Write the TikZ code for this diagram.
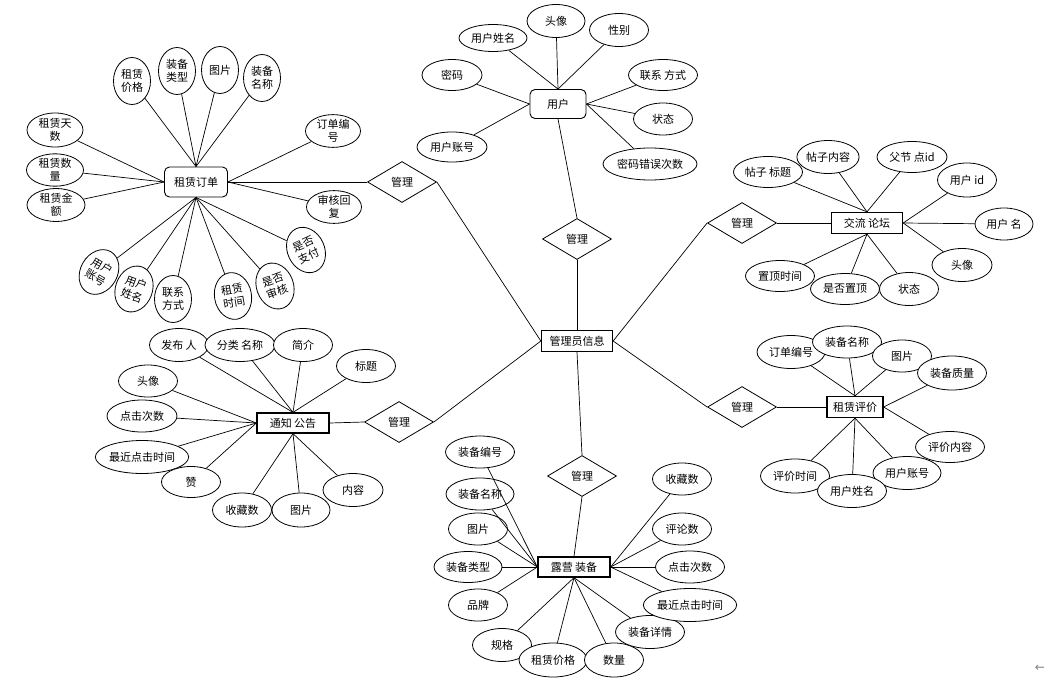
\documentclass[tikz,border=0pt]{standalone}
\usepackage{fontspec}
\setmainfont{Noto Sans CJK SC}
\newfontfamily\symfont{DejaVu Sans}
\usepackage{xcolor}
\usepackage{tikz}
\usetikzlibrary{positioning, arrows.meta, shapes.geometric}

\begin{document}
\begin{tikzpicture}[
	% one unit = one pixel of the sketch, y grows downwards
	x=1pt, y=-1pt,
	font=\fontsize{11pt}{13pt}\selectfont,
	entity/.style={
		rectangle, 
		draw, 
		align=center, 
		inner sep=0pt,
		minimum height=21pt, 
		minimum width=71pt, 
		fill=white,
		line width=1.3pt
	},
	roundbox/.style={
		rectangle, 
		draw, 
		rounded corners=5pt, 
		align=center, 
		inner sep=0pt,
		fill=white,
		line width=0.9pt
	},
	rel/.style={diamond, draw, inner sep=0pt, minimum width=69pt, minimum height=41pt, fill=white, line width=0.8pt},
	attr/.style={ellipse, draw, align=center, inner sep=0pt, minimum width=69pt, minimum height=32pt, fill=white, line width=0.8pt},
	attrs/.style={attr, minimum width=59pt, minimum height=33pt},
	attrl/.style={attr, minimum width=91pt, minimum height=33pt},
	vattr/.style={attr, minimum width=37pt, minimum height=47pt},
	link/.style={line width=0.7pt}
	]
	
	\useasboundingbox (0,0) rectangle (1048,685);
	
	% --- 1. Entities ---
	\node[entity] (admin) at (577,341) {管理员信息};
	\node[roundbox, minimum width=63pt, minimum height=30pt] (order) at (196,182) {租赁订单};
	\node[roundbox, minimum width=56pt, minimum height=29pt] (user) at (558,104) {用户};
	\node[entity] (forum) at (867,223) {交流 论坛};
	\node[entity, minimum width=56pt] (review) at (855,407) {租赁评价};
	\node[entity, minimum width=72pt, minimum height=20pt] (notice) at (293,423) {通知 公告};
	\node[entity, minimum width=72pt, minimum height=20pt] (equip) at (574,567) {露营 装备};
	
	% --- 2. Relations (all of them 管理) ---
	\node[rel] (morder) at (402,182) {管理};
	\node[rel] (muser) at (577,239) {管理};
	\node[rel] (mforum) at (742,223) {管理};
	\node[rel] (mreview) at (742,407) {管理};
	\node[rel] (mnotice) at (399,422) {管理};
	\node[rel] (mequip) at (582,476) {管理};
	
	\draw[link] (order.east) -- (morder.west);
	\draw[link] (morder.east) -- (admin.west);
	\draw[link] (user.south) -- (muser.north);
	\draw[link] (muser.south) -- (admin.north);
	\draw[link] (admin.east) -- (mforum.west);
	\draw[link] (mforum.east) -- (forum.west);
	\draw[link] (admin.east) -- (mreview.west);
	\draw[link] (mreview.east) -- (review.west);
	\draw[link] (notice.east) -- (mnotice.west);
	\draw[link] (mnotice.east) -- (admin.west);
	\draw[link] (admin.south) -- (mequip.north);
	\draw[link] (mequip.south) -- (equip.north);
	
	% --- 3. Attributes of 租赁订单 ---
	\node[vattr] (o1) at (132,81) {租赁\\价格};
	\node[vattr] (o2) at (177,71) {装备\\类型};
	\node[vattr] (o3) at (220,70) {图片};
	\node[vattr] (o4) at (262,78) {装备\\名称};
	\node[attr, minimum width=55pt, minimum height=30pt] (o5) at (333,131) {订单编\\号};
	\node[attr, minimum width=55pt, minimum height=30pt] (o6) at (334,207) {审核回\\复};
	\node[attr, minimum width=56pt, minimum height=34pt] (o7) at (55,130) {租赁天\\数};
	\node[attr, minimum width=57pt, minimum height=29pt] (o8) at (55,170) {租赁数\\量};
	\node[attr, minimum width=58pt, minimum height=30pt] (o9) at (56,205) {租赁金\\额};
	\node[vattr, rotate=-30] (o10) at (99,272) {用户\\账号};
	\node[vattr, rotate=-20] (o11) at (134,289) {用户\\姓名};
	\node[vattr] (o12) at (173,299) {联系\\方式};
	\node[vattr, rotate=10] (o13) at (233,296) {租赁\\时间};
	\node[vattr, rotate=20] (o14) at (275,286) {是否\\审核};
	\node[vattr, rotate=25] (o15) at (306,250) {是否\\支付};
	
	\draw[link] (o1) -- (order.north);
	\draw[link] (o2) -- (order.north);
	\draw[link] (o3) -- (order.north);
	\draw[link] (o4) -- (order.north);
	\draw[link] (o5) -- (order.east);
	\draw[link] (o6) -- (order.east);
	\draw[link] (o7) -- (order.west);
	\draw[link] (o8) -- (order.west);
	\draw[link] (o9) -- (order.west);
	\draw[link] (o10) -- (order.south);
	\draw[link] (o11) -- (order.south);
	\draw[link] (o12) -- (order.south);
	\draw[link] (o13) -- (order.south);
	\draw[link] (o14) -- (order.south);
	\draw[link] (o15) -- (order.south);
	
	% --- 4. Attributes of 用户 ---
	\node[attr, minimum width=68pt, minimum height=27pt] (u1) at (493,38) {用户姓名};
	\node[attrs, minimum width=58pt] (u2) at (556,21) {头像};
	\node[attrs] (u3) at (619,30) {性别};
	\node[attrs, minimum width=60pt, minimum height=31pt] (u4) at (452,75) {密码};
	\node[attr, minimum width=70pt, minimum height=30pt] (u5) at (452,147) {用户账号};
	\node[attr, minimum height=31pt] (u6) at (663,75) {联系 方式};
	\node[attrs, minimum height=32pt] (u7) at (663,119) {状态};
	\node[attr, minimum width=94pt] (u8) at (650,164) {密码错误次数};
	
	\draw[link] (u1) -- (user.north);
	\draw[link] (u2) -- (user.north);
	\draw[link] (u3) -- (user.north);
	\draw[link] (u4) -- (user.west);
	\draw[link] (u5) -- (user.west);
	\draw[link] (u6) -- (user.east);
	\draw[link] (u7) -- (user.east);
	\draw[link] (u8) -- (user.east);
	
	% --- 5. Attributes of 交流论坛 ---
	\node[attr, minimum height=31pt] (f1) at (768,172) {帖子 标题};
	\node[attrs, minimum width=58pt] (f2) at (828,157) {帖子内容};
	\node[attr, minimum width=70pt, minimum height=31pt] (f3) at (912,157) {父节 点id};
	\node[attrs, minimum height=34pt] (f4) at (967,180) {用户 id};
	\node[attrs, minimum width=58pt, minimum height=32pt] (f5) at (1004,224) {用户 名};
	\node[attrs, minimum width=60pt] (f6) at (962,265) {头像};
	\node[attrs] (f7) at (909,289) {状态};
	\node[attr, minimum height=31pt] (f8) at (845,289) {是否置顶};
	\node[attr, minimum height=31pt] (f9) at (780,276) {置顶时间};
	
	\draw[link] (f1) -- (forum.north);
	\draw[link] (f2) -- (forum.north);
	\draw[link] (f3) -- (forum.north);
	\draw[link] (f4) -- (forum.east);
	\draw[link] (f5) -- (forum.east);
	\draw[link] (f6) -- (forum.east);
	\draw[link] (f7) -- (forum.south);
	\draw[link] (f8) -- (forum.south);
	\draw[link] (f9) -- (forum.south);
	
	% --- 6. Attributes of 租赁评价 ---
	\node[attr, minimum width=68pt, minimum height=33pt] (r1) at (791,352) {订单编号};
	\node[attr] (r2) at (847,342) {装备名称};
	\node[attrs, minimum height=32pt] (r3) at (902,356) {图片};
	\node[attr, minimum height=34pt] (r4) at (952,373) {装备质量};
	\node[attr, minimum height=31pt] (r5) at (950,447) {评价内容};
	\node[attr, minimum height=34pt] (r8) at (795,476) {评价时间};
	\node[attr, minimum width=68pt, minimum height=33pt] (r6) at (907,473) {用户账号};
	\node[attr, minimum height=33pt] (r7) at (852,491) {用户姓名};
	
	\draw[link] (r1) -- (review.north);
	\draw[link] (r2) -- (review.north);
	\draw[link] (r3) -- (review.north);
	\draw[link] (r4) -- (review.east);
	\draw[link] (r5) -- (review.east);
	\draw[link] (r6) -- (review.south);
	\draw[link] (r7) -- (review.south);
	\draw[link] (r8) -- (review.south);
	
	% --- 7. Attributes of 通知公告 ---
	\node[attrs] (n1) at (179,345) {发布 人};
	\node[attr, minimum width=70pt, minimum height=33pt] (n2) at (240,345) {分类 名称};
	\node[attrs] (n3) at (303,345) {简介};
	\node[attrs] (n4) at (366,366) {标题};
	\node[attrs, minimum height=32pt] (n5) at (148,381) {头像};
	\node[attr, minimum width=70pt] (n6) at (142,416) {点击次数};
	\node[attrl] (n7) at (142,457) {最近点击时间};
	\node[attrs, minimum height=31pt] (n8) at (191,482) {赞};
	\node[attrs, minimum height=34pt] (n9) at (242,510) {收藏数};
	\node[attrs, minimum width=58pt, minimum height=34pt] (n10) at (301,510) {图片};
	\node[attrs, minimum width=60pt] (n11) at (353,490) {内容};
	
	\draw[link] (n1) -- (notice.north);
	\draw[link] (n2) -- (notice.north);
	\draw[link] (n3) -- (notice.north);
	\draw[link] (n4) -- (notice.north);
	\draw[link] (n5) -- (notice.west);
	\draw[link] (n6) -- (notice.west);
	\draw[link] (n7) -- (notice.west);
	\draw[link] (n8) -- (notice.west);
	\draw[link] (n9) -- (notice.south);
	\draw[link] (n10) -- (notice.south);
	\draw[link] (n11) -- (notice.south);
	
	% --- 8. Attributes of 露营装备 ---
	\node[attr] (e1) at (480,452) {装备编号};
	\node[attr, minimum width=68pt] (e2) at (480,494) {装备名称};
	\node[attrs, minimum height=32pt] (e3) at (478,529) {图片};
	\node[attr, minimum width=68pt, minimum height=31pt] (e4) at (468,567) {装备类型};
	\node[attrs, minimum height=32pt] (e5) at (478,605) {品牌};
	\node[attrs] (e6) at (502,645) {规格};
	\node[attr, minimum width=68pt, minimum height=34pt] (e7) at (553,660) {租赁价格};
	\node[attrs, minimum height=34pt] (e8) at (614,660) {数量};
	\node[attr, minimum height=33pt] (e9) at (650,632) {装备详情};
	\node[attrl, minimum width=89pt] (e10) at (690,605) {最近点击时间};
	\node[attr] (e11) at (690,567) {点击次数};
	\node[attrs, minimum height=32pt] (e12) at (682,529) {评论数};
	\node[attrs, minimum height=32pt] (e13) at (682,479) {收藏数};
	
	\draw[link] (e1) -- (equip.west);
	\draw[link] (e2) -- (equip.west);
	\draw[link] (e3) -- (equip.west);
	\draw[link] (e4) -- (equip.west);
	\draw[link] (e5) -- (equip.west);
	\draw[link] (e6) -- (equip.south);
	\draw[link] (e7) -- (equip.south);
	\draw[link] (e8) -- (equip.south);
	\draw[link] (e9) -- (equip.south);
	\draw[link] (e10) -- (equip.east);
	\draw[link] (e11) -- (equip.east);
	\draw[link] (e12) -- (equip.east);
	\draw[link] (e13) -- (equip.east);
	
	% small back mark in the corner
	\node[text=gray, font=\symfont\fontsize{12pt}{12pt}\selectfont] (back) at (1040,668) {←};
	
\end{tikzpicture}
\end{document}
